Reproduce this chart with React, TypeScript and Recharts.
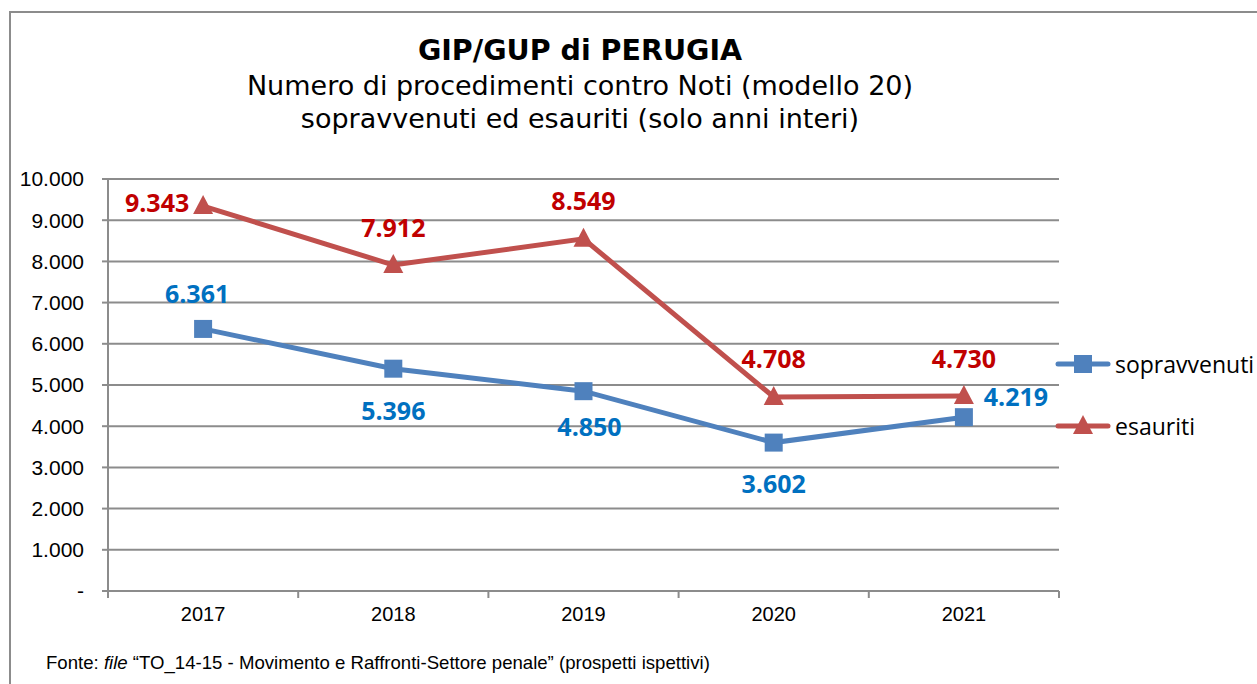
import { LineChart, Line, XAxis, YAxis, CartesianGrid, LabelList } from "recharts";

// values
const years = ["2017", "2018", "2019", "2020", "2021"];
const sopravvenuti = [6361, 5396, 4850, 3602, 4219];
const esauriti = [9343, 7912, 8549, 4708, 4730];
const yTicks = [0, 1000, 2000, 3000, 4000, 5000, 6000, 7000, 8000, 9000, 10000];

// label placement (dx, dy from the point), like the original
const sopraLabelPos = [[-6, -36], [0, 41], [6, 35], [0, 40], [52, -21]];
const esauLabelPos = [[-46, -4], [0, -38], [0, -39], [0, -39], [0, -38]];

const data = years.map((y, i) => ({
  year: y,
  sopravvenuti: sopravvenuti[i],
  esauriti: esauriti[i],
}));

const W = 1257;
const H = 684;
const YW = 90;
const M = { top: 179, right: 198, bottom: 63, left: 18 };
const BAND = (W - M.left - YW - M.right) / years.length;

const BLUE = "#4F81BD";
const RED = "#C0504D";
const GRID = "#8c8c8c";

const fmt = (v: number) =>
  v === 0 ? "-" : String(v).replace(/\B(?=(\d{3})+(?!\d))/g, ".");

const SquareDot = (p: any) => (
  <rect key={"s" + p.index} x={p.cx - 9} y={p.cy - 9} width={18} height={18} fill={BLUE} />
);
const TriDot = (p: any) => (
  <polygon
    key={"t" + p.index}
    points={`${p.cx},${p.cy - 11} ${p.cx - 10},${p.cy + 8} ${p.cx + 10},${p.cy + 8}`}
    fill={RED}
  />
);

const makeLabel = (pos: number[][], color: string) => (p: any) => {
  const [dx, dy] = pos[p.index] || [0, 0];
  return (
    <text
      x={p.x + dx}
      y={p.y + dy}
      textAnchor="middle"
      dominantBaseline="central"
      fill={color}
      fontFamily="'Open Sans', sans-serif"
      fontWeight={700}
      fontSize={25}
    >
      {fmt(p.value)}
    </text>
  );
};

const YearTick = (p: any) => {
  const { x, y, payload, index } = p;
  return (
    <g>
      <line x1={x - BAND / 2} y1={y} x2={x - BAND / 2} y2={y + 7} stroke={GRID} strokeWidth={2} />
      {index === years.length - 1 && (
        <line x1={x + BAND / 2} y1={y} x2={x + BAND / 2} y2={y + 7} stroke={GRID} strokeWidth={2} />
      )}
      <text x={x} y={y + 23} textAnchor="middle" dominantBaseline="central" fill="#000"
        fontFamily="'Liberation Sans', Arial, sans-serif" fontSize={20}>
        {payload.value}
      </text>
    </g>
  );
};

const LegendItem = ({ color, label, square }: { color: string; label: string; square: boolean }) => (
  <div style={{ display: "flex", alignItems: "center", height: 30 }}>
    <svg width={58} height={24}>
      <line x1={4} y1={12} x2={54} y2={12} stroke={color} strokeWidth={5} strokeLinecap="round" />
      {square ? (
        <rect x={20} y={3} width={18} height={18} fill={color} />
      ) : (
        <polygon points="29,1 19,20 39,20" fill={color} />
      )}
    </svg>
    <span style={{ fontFamily: "'Open Sans', sans-serif", fontSize: 23, marginLeft: 3, color: "#000" }}>
      {label}
    </span>
  </div>
);

export default function App() {
  return (
    <div style={{ position: "absolute", left: 0, top: 0, width: W, height: H, overflow: "hidden", background: "#fff" }}>
      <div style={{ position: "absolute", left: 9, top: 11, width: 1400, height: 800, border: `2px solid ${GRID}` }} />

      <div style={{ position: "absolute", left: 0, top: 33, width: 1160, textAlign: "center", fontFamily: "'DejaVu Sans', Verdana, sans-serif", color: "#000" }}>
        <div style={{ fontWeight: 700, fontSize: 28.5, lineHeight: "36px" }}>GIP/GUP di PERUGIA</div>
        <div style={{ fontSize: 27, lineHeight: "33px" }}>Numero di procedimenti contro Noti (modello 20)</div>
        <div style={{ fontSize: 27, lineHeight: "33px" }}>sopravvenuti ed esauriti (solo anni interi)</div>
      </div>

      <div style={{ position: "absolute", left: 0, top: 0 }}>
        <LineChart width={W} height={H} data={data} margin={M}>
          <CartesianGrid vertical={false} stroke={GRID} strokeWidth={2} />
          <XAxis
            dataKey="year"
            padding={{ left: BAND / 2, right: BAND / 2 }}
            axisLine={{ stroke: GRID, strokeWidth: 2 }}
            tickLine={false}
            tickSize={0}
            tickMargin={0}
            height={30}
            interval={0}
            tick={<YearTick />}
          />
          <YAxis
            width={YW}
            domain={[0, 10000]}
            ticks={yTicks}
            interval={0}
            tickFormatter={fmt}
            axisLine={{ stroke: GRID, strokeWidth: 2 }}
            tickLine={{ stroke: GRID, strokeWidth: 2 }}
            tickSize={6}
            tickMargin={18}
            tick={{ fill: "#000", fontSize: 21, fontFamily: "'Liberation Sans', Arial, sans-serif" }}
          />
          <Line
            dataKey="sopravvenuti"
            stroke={BLUE}
            strokeWidth={5}
            dot={SquareDot}
            activeDot={false}
            isAnimationActive={false}
          >
            <LabelList dataKey="sopravvenuti" content={makeLabel(sopraLabelPos, "#0070C0")} />
          </Line>
          <Line
            dataKey="esauriti"
            stroke={RED}
            strokeWidth={5}
            dot={TriDot}
            activeDot={false}
            isAnimationActive={false}
          >
            <LabelList dataKey="esauriti" content={makeLabel(esauLabelPos, "#C00000")} />
          </Line>
        </LineChart>
      </div>

      <div style={{ position: "absolute", left: 1054, top: 349 }}>
        <LegendItem color={BLUE} label="sopravvenuti" square />
        <div style={{ height: 32 }} />
        <LegendItem color={RED} label="esauriti" square={false} />
      </div>

      <div style={{ position: "absolute", left: 46, top: 652, fontFamily: "'Liberation Sans Narrow', 'Arial Narrow', sans-serif", fontSize: 18.6, color: "#000", whiteSpace: "nowrap" }}>
        Fonte: <i>file</i> “TO_14-15 - Movimento e Raffronti-Settore penale” (prospetti ispettivi)
      </div>
    </div>
  );
}
